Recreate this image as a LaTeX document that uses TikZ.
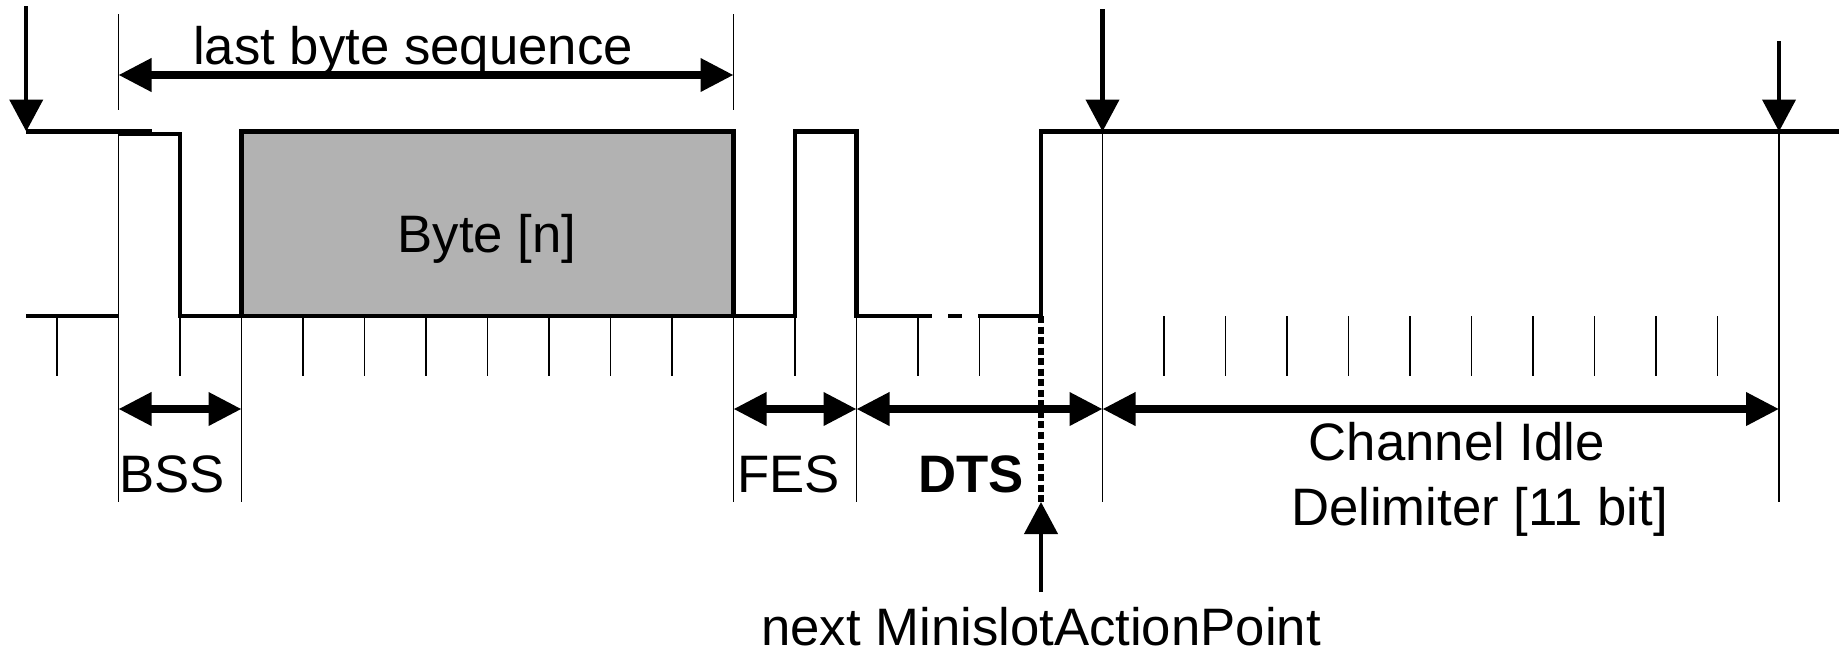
\documentclass[tikz,border=0pt]{standalone}
\usepackage{fontspec}
\setmainfont{Liberation Sans}
\usetikzlibrary{positioning}
\usetikzlibrary{arrows.meta}

\begin{document}
\begin{tikzpicture}[x=0.615cm, y=1cm,
        sig/.style={line width=1.2pt},
        gridline/.style={line width=0.5pt},
        dimline/.style={line width=2pt, {Triangle[length=3.3mm,width=3.2mm]}-{Triangle[length=3.3mm,width=3.2mm]}},
        pointer/.style={line width=1.2pt, -{Triangle[length=3.2mm,width=3.3mm]}},
        lbl/.style={font=\fontsize{15pt}{18pt}\selectfont, inner sep=0pt, anchor=base}]
    \useasboundingbox (0,0) rectangle (18.39cm,6.51cm);
    \begin{scope}[xshift=1.185cm]
        \foreach \k in {-1,1,3,4,5,6,7,8,9,11,13,14,17,18,19,20,21,22,23,24,25,26}
            \draw[gridline] (\k,3.35) -- (\k,2.75);
        \foreach \k/\t in {0/5.195,2/3.35,10/3.35,12/5.195,16/5.195,27/5.195}
            \draw[gridline] (\k,\t) -- (\k,1.49);
        \foreach \k in {0,10}
            \draw[gridline] (\k,6.37) -- (\k,5.41);

        \draw[sig, fill=black!30] (2,3.35) rectangle (10,5.195);
        \node[lbl] (byte) at (5.99,3.99) {Byte [n]};

        \draw[sig] (-1.5,5.195) -- (0,5.195);
        \draw[sig] (-1.5,3.35) -- (0,3.35);
        \draw[line width=1.8pt] (0,5.185) -- (0.55,5.185);
        \draw[sig] (0.55,5.17) -- (1,5.17) -- (1,3.35) -- (2,3.35);
        \draw[sig] (10,3.35) -- (11,3.35) -- (11,5.195) -- (12,5.195) -- (12,3.35) -- (13,3.35);
        \draw[sig, dash pattern=on 0.14cm off 0.16cm] (13,3.35) -- (14,3.35);
        \draw[sig] (14,3.35) -- (15,3.35) -- (15,5.195) -- (27.98,5.195);
        \draw[line width=1.5pt, dash pattern=on 2pt off 1pt] (15,3.35) -- (15,1.49);

        \coordinate (s0) at (-1.5,6.45);
        \coordinate (e0) at (-1.5,5.195);
        \coordinate (s16) at (16,6.42);
        \coordinate (e16) at (16,5.195);
        \coordinate (s27) at (27,6.10);
        \coordinate (e27) at (27,5.195);
        \draw[pointer] (s0) -- (e0);
        \draw[pointer] (s16) -- (e16);
        \draw[pointer] (s27) -- (e27);

        \coordinate (u0) at (0,5.76);
        \coordinate (u10) at (10,5.76);
        \draw[dimline] (u0) -- (u10);
        \node[lbl] (lbs) at (4.79,5.865) {last byte sequence};

        \coordinate (d0) at (0,2.42);
        \coordinate (d2) at (2,2.42);
        \coordinate (d10) at (10,2.42);
        \coordinate (d12) at (12,2.42);
        \coordinate (d16) at (16,2.42);
        \coordinate (d27) at (27,2.42);
        \draw[dimline] (d0) -- (d2);
        \draw[dimline] (d10) -- (d12);
        \draw[dimline] (d12) -- (d16);
        \draw[dimline] (d16) -- (d27);

        \node[lbl] (bss) at (0.87,1.59) {BSS};
        \node[lbl] (fes) at (10.9,1.59) {FES};
        \node[lbl] (dts) at (13.86,1.59) {\textbf{DTS}};
        \node[lbl] (cid) at (21.76,1.91) {Channel Idle};
        \node[lbl] (cidb) at (22.13,1.26) {Delimiter [11 bit]};

        \node[lbl] (nmap) at (15,0.06) {next MinislotActionPoint};
        \coordinate (ap) at (15,1.49);
        \coordinate (apb) at (15,0.59);
        \draw[pointer] (apb) -- (ap);
    \end{scope}
\end{tikzpicture}
\end{document}
